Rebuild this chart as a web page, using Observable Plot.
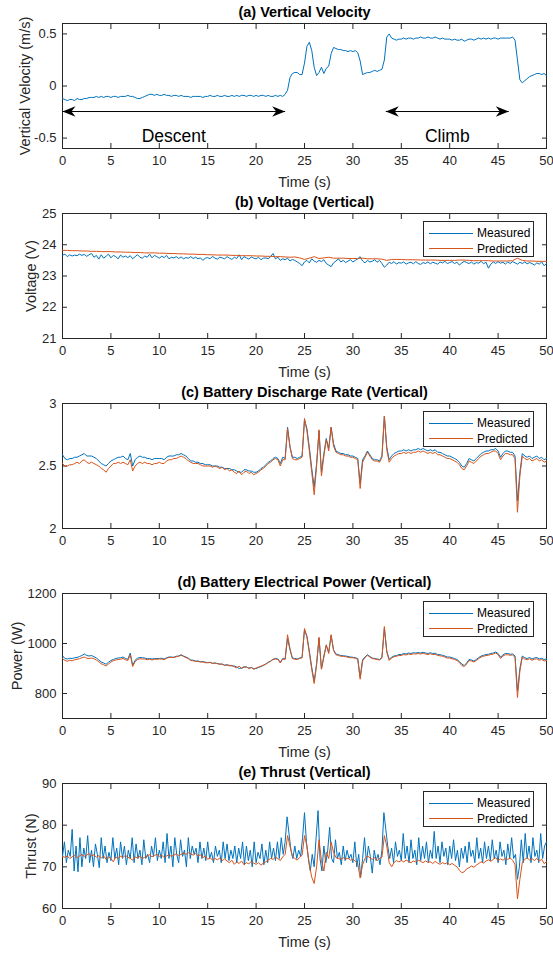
<!DOCTYPE html>
<html><head><meta charset="utf-8">
<script src="https://cdn.jsdelivr.net/npm/d3@7"></script>
<script src="https://cdn.jsdelivr.net/npm/@observablehq/plot@0.6"></script>
<style>
html,body{margin:0;padding:0;background:#fff;}
#chart{position:relative;width:553px;height:955px;font-family:"Liberation Sans",Arial,sans-serif;overflow:hidden;}
.panel{position:absolute;left:0;width:553px;height:190px;}
.panel svg{display:block;}
.legend{position:absolute;left:423px;top:31px;width:109px;height:34px;border:1px solid #262626;background:#fff;font-size:12px;color:#000;box-sizing:content-box;}
.legend .sw{position:absolute;left:5px;width:44px;height:1px;}
.legend .lb{position:absolute;left:53px;line-height:14px;white-space:nowrap;}
</style>
</head><body>
<div id="chart"></div>
<script>
// ---------------- data ----------------
const xTicks = [0,5,10,15,20,25,30,35,40,45,50];
const seriesNames = ["Measured","Predicted"];
const seriesColors = ["#0072BD","#D95319"];

// (a) vertical velocity, 0..50 s every 0.25 s
const velocity = [
-0.12,-0.13,-0.14,-0.13, -0.13,-0.14,-0.12,-0.13, -0.13,-0.12,-0.12,-0.11, -0.11,-0.11,-0.10,-0.11,
-0.10,-0.11,-0.10,-0.10, -0.11,-0.10,-0.10,-0.11, -0.10,-0.10,-0.10,-0.09, -0.10,-0.10,-0.11,-0.12,
-0.12,-0.11,-0.10,-0.09, -0.08,-0.08,-0.09,-0.08, -0.09,-0.09,-0.08,-0.09, -0.09,-0.10,-0.09,-0.09,
-0.10,-0.09,-0.10,-0.10, -0.10,-0.11,-0.10,-0.10, -0.10,-0.10,-0.11,-0.10, -0.10,-0.09,-0.10,-0.10,
-0.09,-0.10,-0.10,-0.09, -0.10,-0.10,-0.09,-0.10, -0.09,-0.10,-0.09,-0.09, -0.10,-0.09,-0.09,-0.10,
-0.09,-0.10,-0.09,-0.09, -0.10,-0.09,-0.10,-0.10, -0.09,-0.10,-0.09,-0.10, -0.08,-0.04,0.08,0.12,
0.13,0.13,0.11,0.11, 0.22,0.38,0.42,0.34, 0.18,0.10,0.13,0.18, 0.12,0.17,0.19,0.31,
0.37,0.36,0.35,0.35, 0.34,0.34,0.33,0.34, 0.33,0.34,0.32,0.24, 0.11,0.12,0.13,0.13,
0.14,0.15,0.14,0.15, 0.16,0.25,0.47,0.50, 0.46,0.45,0.44,0.45, 0.45,0.46,0.45,0.46,
0.46,0.45,0.46,0.46, 0.47,0.46,0.46,0.47, 0.46,0.46,0.47,0.46, 0.45,0.46,0.45,0.45,
0.45,0.44,0.45,0.44, 0.44,0.45,0.43,0.44, 0.45,0.45,0.44,0.45, 0.46,0.45,0.46,0.45,
0.46,0.45,0.46,0.46, 0.45,0.46,0.46,0.46, 0.46,0.46,0.47,0.44, 0.25,0.06,0.03,0.05,
0.07,0.09,0.10,0.11, 0.12,0.12,0.11,0.12, 0.10];
const phaseLabels = ["Descent","Climb"];
const phaseStart = [0, 33.4];
const phaseEnd = [23.0, 46.1];
const arrowLevel = -0.245;
const phaseTextLevel = -0.48;

// (b) voltage: measured every 0.25 s, predicted every 0.5 s
const voltMeasured = [
23.66,23.70,23.62,23.68, 23.64,23.67,23.65,23.70, 23.66,23.69,23.63,23.68, 23.72,23.60,23.66,23.54,
23.68,23.57,23.63,23.70, 23.58,23.66,23.62,23.55, 23.67,23.60,23.64,23.59, 23.65,23.55,23.62,23.68,
23.60,23.57,23.64,23.60, 23.70,23.58,23.66,23.62, 23.57,23.63,23.59,23.66, 23.55,23.60,23.58,23.62,
23.56,23.61,23.55,23.59, 23.57,23.62,23.56,23.60, 23.55,23.58,23.50,23.57, 23.59,23.55,23.63,23.57,
23.54,23.60,23.58,23.55, 23.62,23.57,23.53,23.60, 23.56,23.68,23.52,23.62, 23.58,23.54,23.61,23.57,
23.55,23.60,23.52,23.57, 23.58,23.55,23.62,23.72, 23.55,23.60,23.50,23.55, 23.52,23.57,23.48,23.53,
23.50,23.45,23.40,23.33, 23.45,23.50,23.42,23.55, 23.48,23.44,23.50,23.46, 23.52,23.40,23.35,23.30,
23.42,23.48,23.55,23.45, 23.50,23.43,23.48,23.52, 23.45,23.50,23.55,23.62, 23.48,23.42,23.50,23.45,
23.47,23.52,23.44,23.50, 23.40,23.28,23.35,23.44, 23.40,23.46,23.38,23.43, 23.41,23.45,23.38,23.42,
23.44,23.39,23.46,23.40, 23.37,23.43,23.40,23.45, 23.39,23.44,23.41,23.38, 23.45,23.42,23.47,23.40,
23.43,23.46,23.40,23.44, 23.35,23.42,23.47,23.43, 23.40,23.45,23.38,23.43, 23.41,23.47,23.39,23.44,
23.25,23.38,23.45,23.40, 23.46,23.41,23.44,23.38, 23.45,23.40,23.46,23.42, 23.38,23.44,23.40,23.45,
23.39,23.43,23.40,23.35, 23.42,23.38,23.45,23.33, 23.40];
const voltPredicted = [
23.82,23.82, 23.81,23.81, 23.80,23.80, 23.79,23.79, 23.78,23.78, 23.78,23.77, 23.77,23.76, 23.76,23.75,
23.75,23.74, 23.74,23.74, 23.73,23.73, 23.72,23.72, 23.71,23.71, 23.70,23.70, 23.69,23.69, 23.68,23.68,
23.67,23.67, 23.67,23.66, 23.66,23.65, 23.65,23.65, 23.64,23.64, 23.63,23.63, 23.62,23.62, 23.61,23.60,
23.61,23.58, 23.53,23.57, 23.62,23.56, 23.58,23.60, 23.57,23.57, 23.57,23.56, 23.56,23.56, 23.57,23.55,
23.55,23.55, 23.54,23.50, 23.53,23.53, 23.53,23.52, 23.52,23.52, 23.51,23.51, 23.51,23.51, 23.50,23.50,
23.50,23.50, 23.51,23.51, 23.50,23.49, 23.49,23.49, 23.49,23.48, 23.48,23.48, 23.48,23.49, 23.57,23.50,
23.48,23.48, 23.47,23.47, 23.47];

// (c) battery discharge rate, every 0.25 s
const rateMeasured = [
2.59,2.56,2.55,2.56, 2.56,2.57,2.57,2.58, 2.59,2.60,2.58,2.58, 2.58,2.57,2.56,2.54,
2.52,2.51,2.50,2.52, 2.54,2.55,2.56,2.57, 2.57,2.58,2.56,2.55, 2.60,2.50,2.55,2.57,
2.58,2.57,2.57,2.56, 2.56,2.55,2.56,2.56, 2.56,2.56,2.55,2.57, 2.58,2.58,2.58,2.59,
2.59,2.60,2.59,2.58, 2.56,2.54,2.54,2.53, 2.53,2.52,2.52,2.51, 2.51,2.51,2.50,2.50,
2.50,2.49,2.49,2.48, 2.48,2.48,2.47,2.47, 2.46,2.45,2.45,2.47, 2.47,2.46,2.46,2.45,
2.45,2.46,2.48,2.49, 2.51,2.53,2.54,2.56, 2.57,2.56,2.52,2.57, 2.56,2.81,2.65,2.57,
2.57,2.56,2.57,2.58, 2.87,2.80,2.65,2.48, 2.33,2.52,2.78,2.45, 2.60,2.72,2.64,2.81,
2.68,2.62,2.61,2.60, 2.60,2.59,2.59,2.58, 2.58,2.57,2.56,2.36, 2.55,2.58,2.62,2.59,
2.56,2.55,2.55,2.54, 2.58,2.90,2.65,2.55, 2.58,2.60,2.61,2.62, 2.62,2.63,2.62,2.63,
2.62,2.63,2.63,2.64, 2.63,2.64,2.63,2.62, 2.63,2.62,2.63,2.61, 2.61,2.60,2.59,2.58,
2.58,2.57,2.56,2.55, 2.53,2.50,2.49,2.52, 2.56,2.55,2.54,2.56, 2.58,2.60,2.61,2.62,
2.62,2.63,2.63,2.64, 2.62,2.57,2.60,2.62, 2.62,2.61,2.61,2.58, 2.22,2.45,2.60,2.58,
2.57,2.58,2.56,2.57, 2.58,2.56,2.57,2.55, 2.56];
const ratePredicted = [
2.52,2.50,2.50,2.51, 2.51,2.52,2.53,2.52, 2.54,2.55,2.53,2.52, 2.53,2.52,2.51,2.50,
2.48,2.47,2.45,2.48, 2.50,2.52,2.52,2.53, 2.52,2.53,2.52,2.51, 2.55,2.46,2.50,2.52,
2.53,2.52,2.53,2.52, 2.52,2.51,2.52,2.52, 2.53,2.52,2.52,2.54, 2.55,2.55,2.56,2.56,
2.57,2.58,2.57,2.56, 2.54,2.53,2.52,2.52, 2.52,2.51,2.50,2.50, 2.50,2.50,2.49,2.50,
2.49,2.48,2.49,2.47, 2.48,2.46,2.47,2.45, 2.44,2.46,2.43,2.45, 2.46,2.44,2.45,2.43,
2.44,2.45,2.47,2.48, 2.50,2.52,2.53,2.55, 2.56,2.55,2.50,2.55, 2.55,2.80,2.66,2.56,
2.55,2.55,2.56,2.57, 2.88,2.78,2.62,2.45, 2.27,2.50,2.79,2.42, 2.58,2.71,2.62,2.81,
2.66,2.61,2.60,2.59, 2.59,2.58,2.58,2.57, 2.57,2.56,2.55,2.32, 2.53,2.57,2.61,2.58,
2.55,2.54,2.54,2.53, 2.57,2.90,2.63,2.53, 2.56,2.58,2.59,2.60, 2.60,2.61,2.60,2.61,
2.60,2.61,2.61,2.62, 2.61,2.62,2.61,2.60, 2.61,2.60,2.61,2.59, 2.59,2.58,2.57,2.56,
2.56,2.55,2.54,2.53, 2.51,2.48,2.47,2.50, 2.54,2.53,2.52,2.54, 2.56,2.58,2.59,2.60,
2.60,2.61,2.62,2.62, 2.60,2.55,2.58,2.60, 2.60,2.59,2.59,2.56, 2.13,2.42,2.58,2.56,
2.55,2.56,2.54,2.55, 2.56,2.54,2.55,2.53, 2.54];

// (d) battery electrical power (W), every 0.25 s
const powerMeasured = [
951,940,938,941, 940,943,944,948, 952,958,952,950, 952,947,942,934,
926,922,917,925, 932,936,940,942, 943,946,940,937, 962,912,933,941,
944,943,942,939, 940,938,940,940, 940,941,938,943, 946,946,945,949,
950,955,950,946, 941,934,933,930, 930,927,928,925, 924,925,921,922,
920,918,917,914, 914,913,910,910, 906,900,902,907, 905,902,904,899,
900,904,908,912, 918,925,930,937, 940,938,925,940, 938,1020,975,942,
940,938,942,945, 1055,1030,970,905, 848,920,1020,898, 950,992,965,1032,
975,958,955,952, 951,950,948,946, 945,943,940,865, 935,946,955,948,
942,940,938,936, 945,1060,970,937, 945,950,952,956, 956,960,958,962,
960,963,962,964, 962,965,962,960, 963,960,961,956, 955,953,950,946,
946,943,940,936, 928,918,912,922, 936,934,930,936, 944,950,953,956,
957,960,962,966, 960,945,955,960, 960,957,958,950, 810,900,950,943,
940,944,938,942, 944,938,941,936, 938];
const powerPredicted = [
940,932,929,933, 931,935,937,939, 943,946,941,940, 942,939,934,927,
919,915,910,918, 926,931,934,936, 937,940,935,932, 955,908,928,936,
939,938,938,935, 937,934,937,937, 938,938,935,941, 944,944,944,947,
949,953,948,944, 939,932,931,928, 928,926,926,923, 923,924,920,922,
919,917,918,912, 915,910,913,906, 903,910,900,905, 908,899,904,897,
902,906,909,914, 917,924,929,936, 938,936,922,938, 936,1035,980,940,
937,936,940,943, 1060,1025,962,895, 840,915,1025,897, 945,995,960,1035,
972,955,952,949, 949,947,945,943, 943,941,937,857, 930,944,953,946,
940,938,936,934, 942,1068,965,932, 942,947,949,952, 952,956,954,958,
956,959,958,960, 958,961,958,956, 959,956,957,952, 951,949,946,942,
942,939,936,932, 924,912,908,918, 932,930,926,932, 940,946,949,952,
953,956,958,962, 956,940,950,955, 955,953,954,945, 784,890,945,938,
935,939,933,937, 939,933,936,930, 932];

// (e) thrust (N): measured every 0.2 s, predicted every 0.25 s
const thrustMeasured = [
72.5,76,71,74,72.5, 79,69,75,68.8,77, 70,74.5,72,77.5,71, 74,70,75.5,73,69.8, 77,72,75,71,73.5,
71.5,77,72,74.5,70.5, 76,72,75,70.5,74, 72,77,71,75.5,72, 74,70.5,76.5,72,73, 71,75,72.5,77,71.5,
74,72,76,71,78, 72,75,70,77,73, 71,76.5,72.5,74,70, 77,72,75,73,74.5, 71,76,72,74.5,71.5,
76,72,73.5,71,75, 72.5,74,71,76,72, 75.5,71.5,74,72,75, 71,74.5,72,76,70.5, 75,71.5,74,70,76,
71,73.5,72,75.5,70.5, 74,71,76,72,74.5, 71.5,76,72,77,73, 76,82,78,74,72, 75,72,74,72.5,77,
83,76,72,69,73, 70,77,83.5,72,69, 75,71,74,79.5,72, 71,76.5,72,73.5,70.5, 75,71.5,74,72,73,
71,76,70,73,67.5, 72,77,71,75,72.5, 68.5,74,71.5,73,70.5, 74,83,79,75,72, 74.5,71,76,72.5,74,
71.5,78,72,75,71, 76.5,72,74,70.5,77, 71.5,75,72,76,71, 74,72,78.5,72,75, 71,76,72.5,74.5,70.5,
75,72,76.5,71.5,74, 70,74.5,72,75,71, 76,72.5,74,71,77, 72,74.5,71,76,72, 75,71.5,76.5,72,74,
71,76,72.5,74,70.5, 75.5,72,77,72,73, 67,70,76.5,71,78, 72,75,71,77,72.5, 74,71,78,72,75,
76];
const thrustPredicted = [
72.5,72.3,72.6,72.0, 72.4,72.8,72.2,72.6, 73.0,72.5,72.8,73.2, 72.6,72.9,72.3,72.7,
72.1,72.6,71.8,72.4, 72.0,71.2,72.4,72.0, 72.6,72.2,72.8,72.3, 72.0,71.6,72.4,72.1,
72.5,72.0,72.3,72.6, 72.9,72.4,72.7,73.0, 72.5,72.8,72.2,72.6, 72.9,72.5,72.8,73.1,
72.7,73.0,73.3,73.0, 73.4,73.1,72.8,73.2, 72.6,72.9,72.2,72.6, 71.8,72.2,71.6,72.0,
71.7,72.1,71.5,71.9, 71.4,71.0,71.6,70.6, 71.2,70.8,71.4,70.5, 71.0,70.7,71.3,70.9,
70.6,71.0,70.4,70.9, 71.2,71.6,72.0,71.8, 72.3,72.0,71.5,72.4, 73.0,77.5,75.0,72.5,
72.0,71.6,72.3,72.8, 77.5,75.0,70.5,67.5, 66.0,70.0,76.5,71.5, 69.0,73.5,72.0,76.0,
73.5,72.2,72.0,71.8, 72.2,71.8,72.1,71.6, 71.8,71.4,70.8,67.3, 70.5,72.0,72.6,72.2,
71.8,72.2,71.5,72.0, 72.3,77.5,75.0,71.0, 70.0,71.0,71.5,71.2, 71.5,71.2,71.6,71.3,
71.0,71.4,71.2,71.6, 71.3,71.0,71.4,71.1, 71.2,70.8,71.3,70.9, 70.6,71.0,70.7,71.0,
70.5,70.8,70.4,70.0, 69.2,68.6,68.8,69.5, 69.8,70.2,69.9,70.4, 70.8,71.2,70.9,71.4,
71.7,71.3,71.8,72.2, 71.5,71.9,71.6,72.0, 71.8,72.1,71.6,70.5, 62.3,67.0,71.0,71.8,
72.2,71.6,72.0,71.5, 72.0,71.4,71.8,70.8, 71.2];

// ---------------- helpers ----------------
const TMAX = 50;
function toRows(values, name) {
  const step = TMAX / (values.length - 1);
  return values.map((v, i) => ({t: i * step, v, name}));
}
const FONT = '"Liberation Sans", Arial, Helvetica, sans-serif';
const INK = "#262626";
const arrowHead = {
  draw(ctx) {
    ctx.moveTo(0, 0);
    ctx.lineTo(-13, -5.3);
    ctx.lineTo(-9, 0);
    ctx.lineTo(-13, 5.3);
    ctx.closePath();
  }
};

function makePanel(cfg) {
  const marks = [
    Plot.frame({stroke: INK, strokeWidth: 1}),
    Plot.axisX(xTicks, {anchor: "bottom", tickSize: -5, tickPadding: 12, tickFormat: d => String(d), label: null, fontSize: 13}),
    Plot.axisX(xTicks, {anchor: "top", tickSize: -5, tickFormat: () => "", label: null}),
    Plot.axisY(cfg.yTicks, {anchor: "left", tickSize: -5, tickPadding: 11, tickFormat: d => String(d), label: null, fontSize: 13}),
    Plot.axisY(cfg.yTicks, {anchor: "right", tickSize: -5, tickFormat: () => "", label: null}),
  ];
  cfg.series.forEach((s, k) => {
    marks.push(Plot.line(s, {x: "t", y: "v", stroke: seriesColors[k], strokeWidth: 1}));
  });
  if (cfg.extra) marks.push(...cfg.extra);
  marks.push(Plot.text([cfg.title], {text: d => d, frameAnchor: "top", dy: -11.5, lineAnchor: "middle", textAnchor: "middle", fontWeight: "bold", fontSize: 14.5, fill: "#000"}));
  if (cfg.ylabel) marks.push(Plot.text([cfg.ylabel], {text: d => d, frameAnchor: "left", dx: cfg.ylabelDx, rotate: -90, textAnchor: "middle", lineAnchor: "middle", fontSize: 14.5, fill: INK}));
  if (cfg.xlabel) marks.push(Plot.text([cfg.xlabel], {text: d => d, frameAnchor: "bottom", dy: 33.5, textAnchor: "middle", lineAnchor: "middle", fontSize: 14.5, fill: INK}));
  return Plot.plot({
    width: 553, height: 190,
    marginTop: 23, marginBottom: 42, marginLeft: 62, marginRight: 7,
    x: {domain: [0, TMAX]},
    y: {domain: cfg.yDomain},
    style: {fontFamily: FONT, fontSize: "13px", color: INK, background: "transparent", overflow: "visible"},
    marks
  });
}

function addLegend(div) {
  const lg = document.createElement("div");
  lg.className = "legend";
  seriesNames.forEach((n, k) => {
    const cy = k === 0 ? 11 : 26.5;
    const sw = document.createElement("div");
    sw.className = "sw";
    sw.style.top = (cy - 0.5) + "px";
    sw.style.background = seriesColors[k];
    const lb = document.createElement("div");
    lb.className = "lb";
    lb.style.top = (cy - 7) + "px";
    lb.textContent = n;
    lg.appendChild(sw);
    lg.appendChild(lb);
  });
  div.appendChild(lg);
}

// phase annotation rows (panel a)
const phases = phaseLabels.map((label, i) => ({label, x1: phaseStart[i], x2: phaseEnd[i]}));
const heads = phases.flatMap(p => [{x: p.x1, dir: 180}, {x: p.x2, dir: 0}]);

const panels = [
  {title: "(a) Vertical Velocity", ylabel: "Vertical Velocity (m/s)", ylabelDx: -37.5, xlabel: "Time (s)",
   yDomain: [-0.6, 0.6], yTicks: [-0.5, 0, 0.5], series: [toRows(velocity, "Measured")], legend: false,
   extra: [
     Plot.link(phases, {x1: "x1", x2: "x2", y1: () => arrowLevel, y2: () => arrowLevel, stroke: "#000", strokeWidth: 1}),
     Plot.dot(heads, {x: "x", y: () => arrowLevel, rotate: "dir", symbol: arrowHead, fill: "#000", stroke: "none", r: 6}),
     Plot.text(phases, {x: d => (d.x1 + d.x2) / 2, y: () => phaseTextLevel, text: "label", fontSize: 17.5, fill: "#000"})
   ]},
  {title: "(b) Voltage (Vertical)", ylabel: "Voltage (V)", ylabelDx: -31, xlabel: "Time (s)",
   yDomain: [21, 25], yTicks: [21, 22, 23, 24, 25],
   series: [toRows(voltMeasured, "Measured"), toRows(voltPredicted, "Predicted")], legend: true},
  {title: "(c) Battery Discharge Rate (Vertical)", ylabel: null, xlabel: null,
   yDomain: [2, 3], yTicks: [2, 2.5, 3],
   series: [toRows(rateMeasured, "Measured"), toRows(ratePredicted, "Predicted")], legend: true},
  {title: "(d) Battery Electrical Power (Vertical)", ylabel: "Power (W)", ylabelDx: -45, xlabel: "Time (s)",
   yDomain: [700, 1200], yTicks: [800, 1000, 1200],
   series: [toRows(powerMeasured, "Measured"), toRows(powerPredicted, "Predicted")], legend: true},
  {title: "(e) Thrust (Vertical)", ylabel: "Thrust (N)", ylabelDx: -31, xlabel: "Time (s)",
   yDomain: [60, 90], yTicks: [60, 70, 80, 90],
   series: [toRows(thrustMeasured, "Measured"), toRows(thrustPredicted, "Predicted")], legend: true}
];

const chart = document.getElementById("chart");
panels.forEach((cfg, i) => {
  const div = document.createElement("div");
  div.className = "panel";
  div.style.top = (i * 190) + "px";
  div.appendChild(makePanel(cfg));
  if (cfg.legend) addLegend(div);
  chart.appendChild(div);
});
</script>
</body></html>
